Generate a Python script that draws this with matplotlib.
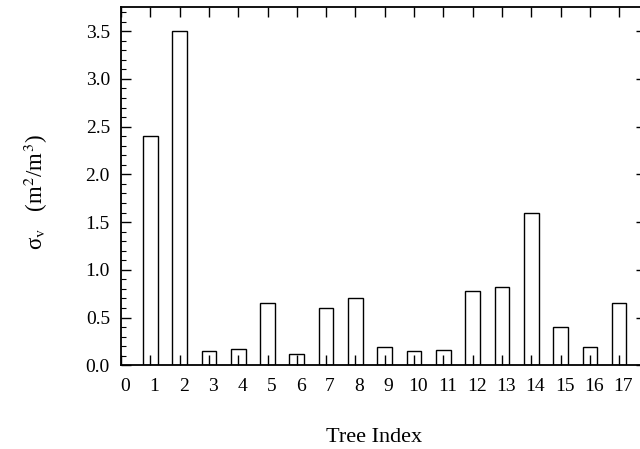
import matplotlib

matplotlib.use("Agg")
import matplotlib.pyplot as plt  # noqa: E402
import matplotlib.transforms as mtransforms  # noqa: E402
from matplotlib.ticker import FormatStrFormatter, MultipleLocator  # noqa: E402

# 樹木ごとの値
tree_index = list(range(1, 18))
sigma_v = [2.40, 3.50, 0.15, 0.17, 0.65, 0.12, 0.60, 0.71, 0.19,
           0.15, 0.16, 0.78, 0.82, 1.60, 0.40, 0.19, 0.65]
x_labels = [str(i) for i in range(0, 18)]

plt.rcParams["font.family"] = ["Liberation Serif", "DejaVu Serif"]
plt.rcParams["mathtext.fontset"] = "stix"

fig = plt.figure(figsize=(6.4, 4.49), dpi=100)
W, H = 640, 449
left, right, top, bottom = 121, 645.5, 7.3, 365.3
ax = fig.add_axes([left / W, 1 - bottom / H, (right - left) / W, (bottom - top) / H])

ax.bar(tree_index, sigma_v, width=0.5, facecolor="white", edgecolor="black",
       linewidth=1.0, zorder=1)

ax.set_xlim(0, 17.9)
ax.set_ylim(0, 3.75)

ax.set_xticks(range(0, 18))
ax.set_xticklabels(x_labels)
ax.yaxis.set_major_locator(MultipleLocator(0.5))
ax.yaxis.set_minor_locator(MultipleLocator(0.1))
ax.yaxis.set_major_formatter(FormatStrFormatter("%.1f"))

ax.tick_params(axis="x", which="major", direction="in", length=7, width=1.0,
               top=True, bottom=True, labelsize=14, pad=9.5)
ax.tick_params(axis="y", which="major", direction="in", length=7, width=1.0,
               left=True, right=True, labelsize=14, pad=8)
ax.tick_params(axis="y", which="minor", direction="in", length=3.5, width=0.8,
               left=True, right=True)

# 目盛りラベルを少し右へずらす
offset = mtransforms.ScaledTranslation(4 / 100, 0, fig.dpi_scale_trans)
for lbl in ax.get_xticklabels():
    lbl.set_transform(lbl.get_transform() + offset)

for sp in ax.spines.values():
    sp.set_linewidth(1.3)
    sp.set_zorder(3)

fig.text(374 / W, 1 - 437 / H, "Tree Index", ha="center", va="center", fontsize=16)
fig.text(36 / W, 1 - 192 / H, "σ$_{\\rm v}$   (m$^2$/m$^3$)", ha="center", va="center",
         rotation=90, fontsize=16.5)

fig.savefig("out.png", dpi=100)
